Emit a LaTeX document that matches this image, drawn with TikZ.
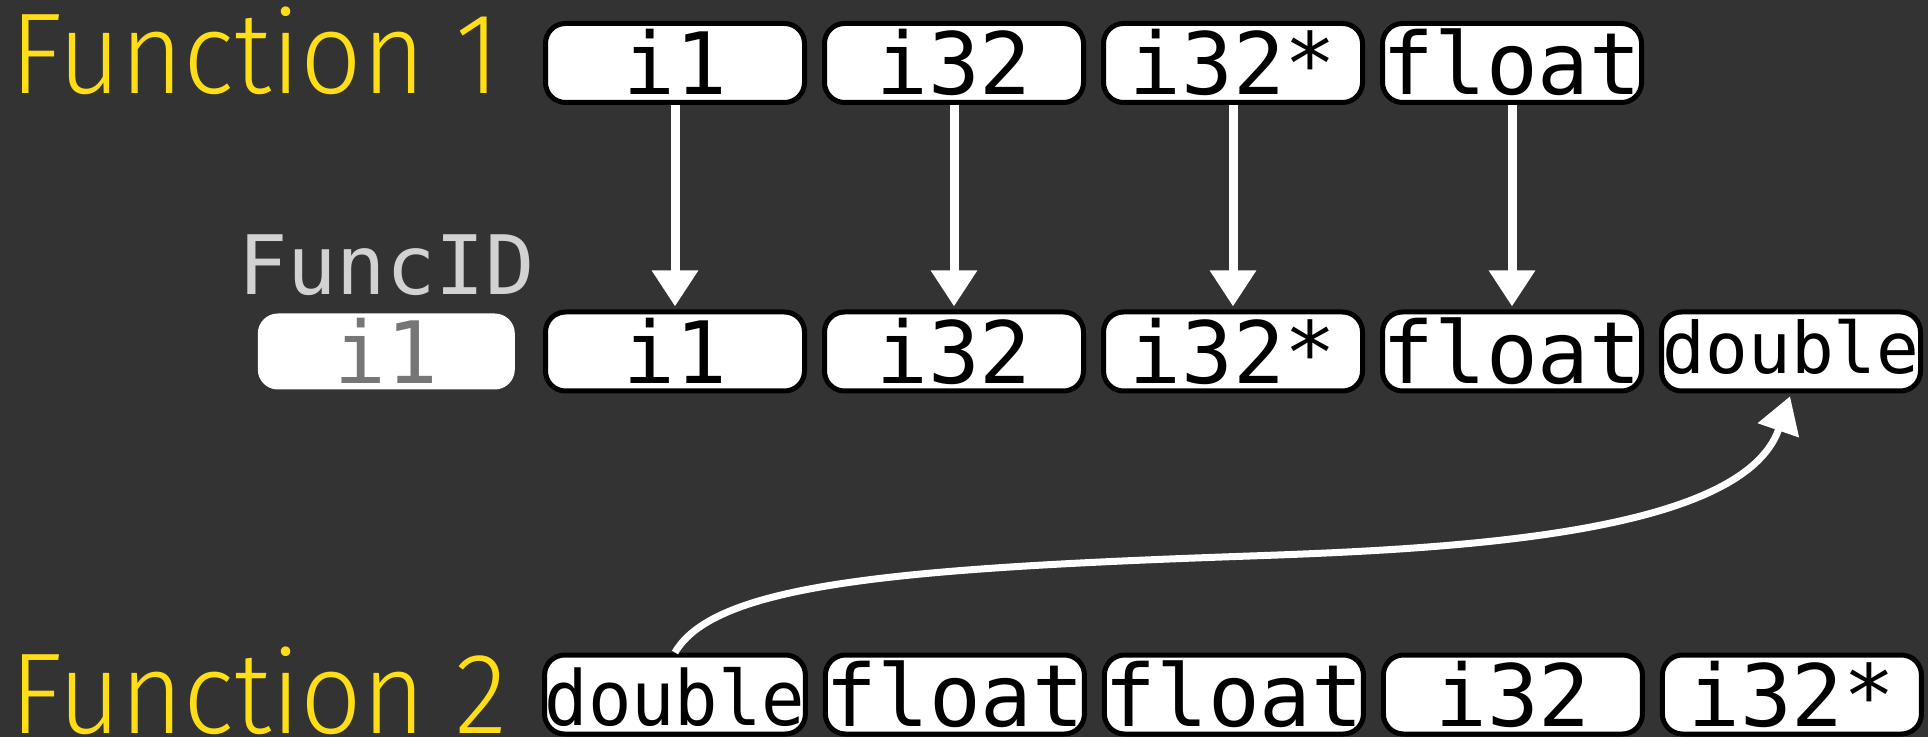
\documentclass[tikz,border=0pt]{standalone}
\usepackage{fontspec}
\usepackage{graphicx}
\usetikzlibrary{positioning, arrows.meta}

\newfontfamily\typefont{DejaVu Sans Mono}
\newfontfamily\headfont{Fira Sans Light}

\definecolor{bg}{HTML}{333333}
\definecolor{fnyellow}{HTML}{FFDE17}
\definecolor{idgray}{HTML}{D2D2D2}
\definecolor{slotgray}{HTML}{767676}

\tikzset{
  ty/.style={draw=black, fill=white, line width=5pt, rounded corners=20pt,
    minimum width=259pt, minimum height=79pt, inner sep=0pt,
    text height=64pt, text depth=0pt,
    font=\typefont\fontsize{86}{86}\selectfont},
  tylong/.style={ty, font=\typefont\fontsize{71}{71}\selectfont,
    text height=45pt},
  slot/.style={fill=white, rounded corners=20pt, inner sep=0pt,
    minimum width=257pt, minimum height=76pt,
    text height=64pt, text depth=0pt, text=slotgray,
    font=\typefont\fontsize{86}{86}\selectfont},
  fn/.style={anchor=base west, inner sep=0pt, text=fnyellow,
    font=\headfont\fontsize{115}{115}\selectfont},
  map/.style={white, line width=9pt, shorten >=3pt,
    -{Triangle[length=36pt, width=44pt]}},
  flow/.style={white, line width=7pt, shorten >=3pt,
    -{Triangle[length=36pt, width=42pt]}}
}

\begin{document}
\begin{tikzpicture}[x=1pt, y=1pt]
\fill[bg] (0,0) rectangle (1928,737);

% function 1
\node[fn] (fn1) at (10,643) {\scalebox{0.94}[1]{Function 1}};
\node[ty] (a1) at (675,674) {i1};
\node[ty, right=15pt of a1] (a2) {i32};
\node[ty, right=15pt of a2] (a3) {i32*};
\node[ty, right=15pt of a3] (a4) {float};

% merged signature
\node[ty] (m1) at (675,385.5) {i1};
\node[ty, right=15pt of m1] (m2) {i32};
\node[ty, right=15pt of m2] (m3) {i32*};
\node[ty, right=15pt of m3] (m4) {float};
\node[tylong, right=15pt of m4] (m5) {double};
\node[slot, left=28pt of m1] (m0) {i1};
\node[above=19pt of m0, anchor=base, inner sep=0pt, text=idgray,
  font=\typefont\fontsize{82}{82}\selectfont] (fid) {FuncID};

% function 2
\node[fn] (fn2) at (10,4) {\scalebox{0.94}[1]{Function 2}};
\node[ty, text height=61pt, font=\typefont\fontsize{76}{76}\selectfont]
  (b1) at (675,42.5) {\scalebox{0.95}[1]{double}};
\node[ty, right=15pt of b1] (b2) {float};
\node[ty, right=15pt of b2] (b3) {float};
\node[ty, right=15pt of b3] (b4) {i32};
\node[ty, right=15pt of b4] (b5) {i32*};

\coordinate (bend) at (1250,181);

\draw[map] (a1) -- (m1);
\draw[map] (a2) -- (m2);
\draw[map] (a3) -- (m3);
\draw[map] (a4) -- (m4);
\draw[flow] (b1.north)
  to[out=60, in=182, out distance=80pt, in distance=350pt] (bend)
  to[out=2, in=-109, out distance=200pt, in distance=150pt] (m5.south);
\end{tikzpicture}
\end{document}
